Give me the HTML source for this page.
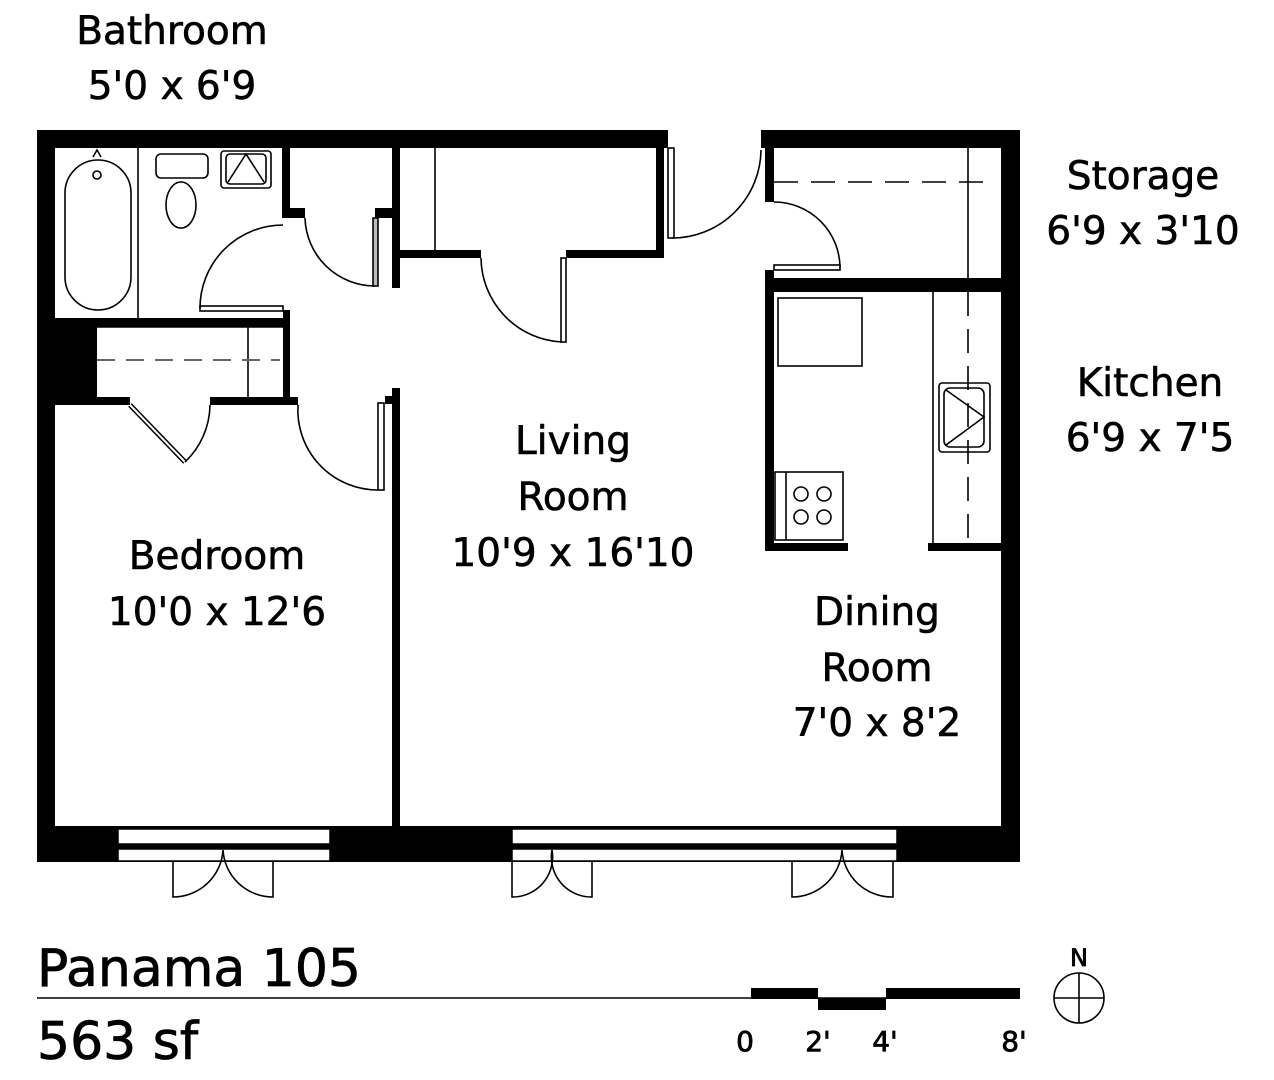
<!DOCTYPE html>
<html><head><meta charset="utf-8"><style>
html,body{margin:0;padding:0;background:#fff;}
svg{display:block}
text{font-family:"DejaVu Sans","Liberation Sans",sans-serif;fill:#000}
</style></head><body>
<svg width="1274" height="1080" viewBox="0 0 1274 1080" xmlns="http://www.w3.org/2000/svg">
<g fill="#000">
<rect x="37" y="130" width="631" height="18"/>
<rect x="761" y="130" width="259" height="18"/>
<rect x="37" y="130" width="18" height="732"/>
<rect x="1001" y="130" width="19" height="732"/>
<rect x="37" y="826" width="983" height="36"/>
<rect x="282" y="148" width="8" height="70"/>
<rect x="282" y="208" width="23" height="10"/>
<rect x="375" y="208" width="20" height="10"/>
<rect x="392" y="148" width="8" height="140"/>
<rect x="55" y="318" width="235" height="9"/>
<rect x="283" y="310" width="7" height="95"/>
<rect x="55" y="327" width="42" height="70"/>
<rect x="55" y="397" width="75" height="8"/>
<rect x="210" y="397" width="88" height="8"/>
<rect x="392" y="388" width="8" height="438"/>
<rect x="385" y="396" width="8" height="8"/>
<rect x="400" y="250" width="81" height="8"/>
<rect x="566" y="250" width="98" height="8"/>
<rect x="656" y="148" width="8" height="110"/>
<rect x="765" y="148" width="9" height="54"/>
<rect x="765" y="270" width="9" height="281"/>
<rect x="765" y="278" width="236" height="14"/>
<rect x="765" y="543" width="83" height="8"/>
<rect x="928" y="543" width="73" height="8"/>
</g>
<g fill="#fff" stroke="#000" stroke-width="1.5">
<rect x="118" y="829" width="212" height="15"/>
<rect x="118" y="849" width="212" height="12"/>
<rect x="512" y="829" width="385" height="15"/>
<rect x="512" y="849" width="385" height="12"/>
</g>
<g fill="none" stroke="#000" stroke-width="1.6">
<line x1="138" y1="148" x2="138" y2="318"/>
<rect x="65" y="160" width="66" height="150" rx="33"/>
<circle cx="97" cy="175" r="4"/>
<path d="M93 157 L97 150 L101 157"/>
<rect x="156" y="154" width="52" height="24" rx="5"/>
<ellipse cx="181" cy="205" rx="15" ry="23"/>
<rect x="221" y="151" width="50" height="37" rx="3"/>
<rect x="226" y="154" width="40" height="30" rx="4"/>
<path d="M228 182 L246 154 L264 182"/>
<path d="M200 308 A83 83 0 0 1 283 225"/>
<rect x="200" y="306" width="83" height="5"/>
<path d="M305 218 A70 70 0 0 0 375 286"/>
<rect x="373" y="218" width="5" height="68" fill="#bbb"/>
<line x1="97" y1="327" x2="283" y2="327"/>
<line x1="248" y1="327" x2="248" y2="397"/>
<line x1="97" y1="360" x2="280" y2="360" stroke="#666" stroke-dasharray="18 11" stroke-width="2"/>
<path d="M130 405 L185 462" stroke-width="5"/>
<path d="M130 405 L185 462" stroke="#fff" stroke-width="2"/>
<path d="M185 462 A80 80 0 0 0 210 405"/>
<path d="M298 405 A80 80 0 0 0 378 490"/>
<rect x="378" y="403" width="6" height="87"/>
<line x1="435" y1="148" x2="435" y2="250"/>
<path d="M481 258 A85 85 0 0 0 562 342"/>
<rect x="561" y="258" width="5" height="84"/>
<rect x="668" y="148" width="6" height="90"/>
<path d="M672 238 A89 89 0 0 0 761 150"/>
<line x1="774" y1="182" x2="992" y2="182" stroke-dasharray="24 13"/>
<line x1="968" y1="148" x2="968" y2="278"/>
<path d="M774 202 A66 66 0 0 1 840 268"/>
<rect x="774" y="265" width="66" height="5"/>
<line x1="933" y1="292" x2="933" y2="543"/>
<line x1="968" y1="292" x2="968" y2="543" stroke-dasharray="24 13"/>
<rect x="778" y="298" width="84" height="68"/>
<rect x="939" y="383" width="51" height="69" rx="3"/>
<rect x="944" y="388" width="40" height="59" rx="6"/>
<path d="M946 390 L984 417 L946 445"/>
<rect x="775" y="472" width="68" height="68"/>
<line x1="786" y1="472" x2="786" y2="540"/>
<circle cx="801" cy="494" r="7"/><circle cx="824" cy="494" r="7"/>
<circle cx="801" cy="517" r="7"/><circle cx="824" cy="517" r="7"/>
<path d="M173 862 V897 A50 50 0 0 0 223 850 A50 50 0 0 0 273 897 V862"/>
<path d="M512 862 V897 A40 40 0 0 0 552 850 A40 40 0 0 0 592 897 V862"/>
<path d="M792 862 V897 A50 50 0 0 0 842 850 A50 50 0 0 0 893 897 V862"/>
<circle cx="1079" cy="998" r="25"/>
<line x1="1054" y1="998" x2="1104" y2="998"/>
<line x1="1079" y1="973" x2="1079" y2="1023"/>
</g>
<line x1="37" y1="998" x2="1020" y2="998" stroke="#000" stroke-width="1.5"/>
<rect x="751" y="988" width="67" height="11"/>
<rect x="818" y="998" width="68" height="12"/>
<rect x="886" y="988" width="134" height="11"/>
<g font-size="39" text-anchor="middle" stroke="#000" stroke-width="0.6">
<text x="172" y="44">Bathroom</text>
<text x="172" y="99">5'0 x 6'9</text>
<text x="1143" y="189">Storage</text>
<text x="1143" y="244">6'9 x 3'10</text>
<text x="1150" y="396">Kitchen</text>
<text x="1150" y="451">6'9 x 7'5</text>
<text x="573" y="454">Living</text>
<text x="573" y="510">Room</text>
<text x="573" y="566">10'9 x 16'10</text>
<text x="217" y="569">Bedroom</text>
<text x="217" y="625">10'0 x 12'6</text>
<text x="877" y="625">Dining</text>
<text x="877" y="681">Room</text>
<text x="877" y="736">7'0 x 8'2</text>
</g>
<g stroke="#000" stroke-width="0.8">
<text x="37" y="986" font-size="52">Panama 105</text>
<text x="37" y="1059" font-size="52">563 sf</text>
</g>
<g font-size="28" text-anchor="middle" stroke="#000" stroke-width="0.8">
<text x="745" y="1051">0</text>
<text x="818" y="1051">2'</text>
<text x="885" y="1051">4'</text>
<text x="1014" y="1051">8'</text>
<text x="1079" y="966" font-size="24">N</text>
</g>
</svg>
</body></html>
